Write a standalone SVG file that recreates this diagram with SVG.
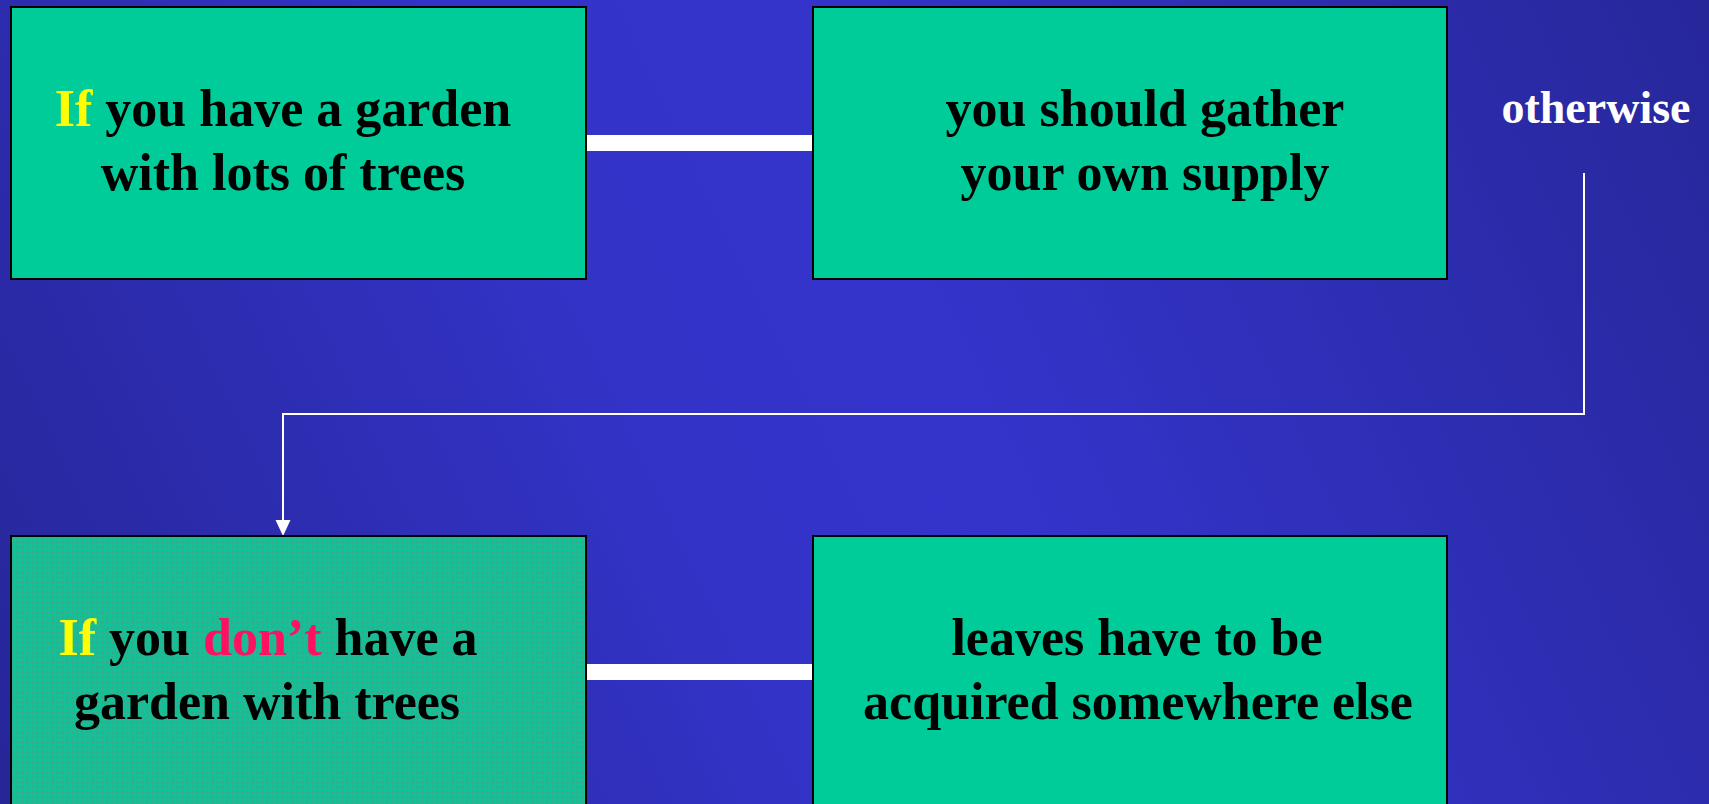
<svg xmlns="http://www.w3.org/2000/svg" width="1709" height="804" viewBox="0 0 1709 804">
<defs>
<linearGradient id="bg" gradientUnits="userSpaceOnUse" x1="1709" y1="0" x2="0" y2="804">
<stop offset="0" stop-color="#27279A"/>
<stop offset="0.45" stop-color="#3434CC"/>
<stop offset="0.6" stop-color="#3333C8"/>
<stop offset="1" stop-color="#262698"/>
</linearGradient>
<pattern id="dots" width="5" height="5" patternUnits="userSpaceOnUse">
<rect width="5" height="5" fill="#12C296"/>
<circle cx="2.5" cy="2.5" r="1.2" fill="#4C9F8C"/>
</pattern>
<marker id="arr" viewBox="0 0 10 10" refX="10" refY="5" markerWidth="8" markerHeight="8" markerUnits="userSpaceOnUse" orient="auto">
<path d="M0,0 L10,5 L0,10 z" fill="#FFFFFF"/>
</marker>
</defs>
<style>
.box{fill:#00CC99;stroke:#000000;stroke-width:2}
.t{font-family:"Liberation Serif","Times New Roman",serif;font-weight:bold;font-size:52px;fill:#000000;text-anchor:middle}
.y{fill:#FFFF00}
.r{fill:#FF1060}
.bar{fill:#FFFFFF}
.ln{fill:none;stroke:#FFFFFF;stroke-width:2}
</style>
<rect width="1709" height="804" fill="url(#bg)"/>
<g id="connectors">
<rect class="bar" x="587" y="135" width="226" height="16"/>
<rect class="bar" x="587" y="664" width="226" height="16"/>
<polyline class="ln" points="1584,173 1584,414 283,414 283,520"/>
<path d="M275.5,520 L290.5,520 L283,536 z" fill="#FFFFFF"/>
<text x="1596" y="123" style="font-family:'Liberation Serif','Times New Roman',serif;font-weight:bold;font-size:46px;fill:#FFFFFF;text-anchor:middle">otherwise</text>
</g>
<g id="node1">
<rect class="box" x="11" y="7" width="575" height="272"/>
<text class="t" x="283" y="126"><tspan class="y">If</tspan> you have a garden</text>
<text class="t" x="283" y="190">with lots of trees</text>
</g>
<g id="node2">
<rect class="box" x="813" y="7" width="634" height="272"/>
<text class="t" x="1145" y="126">you should gather</text>
<text class="t" x="1145" y="190">your own supply</text>
</g>
<g id="node3">
<rect x="11" y="536" width="575" height="280" fill="url(#dots)" stroke="#000000" stroke-width="2"/>
<text class="t" x="268" y="655"><tspan class="y">If</tspan> you <tspan class="r">don’t</tspan> have a</text>
<text class="t" x="267" y="719">garden with trees</text>
</g>
<g id="node4">
<rect class="box" x="813" y="536" width="634" height="280"/>
<text class="t" x="1137" y="655">leaves have to be</text>
<text class="t" x="1138" y="719">acquired somewhere else</text>
</g>
</svg>
